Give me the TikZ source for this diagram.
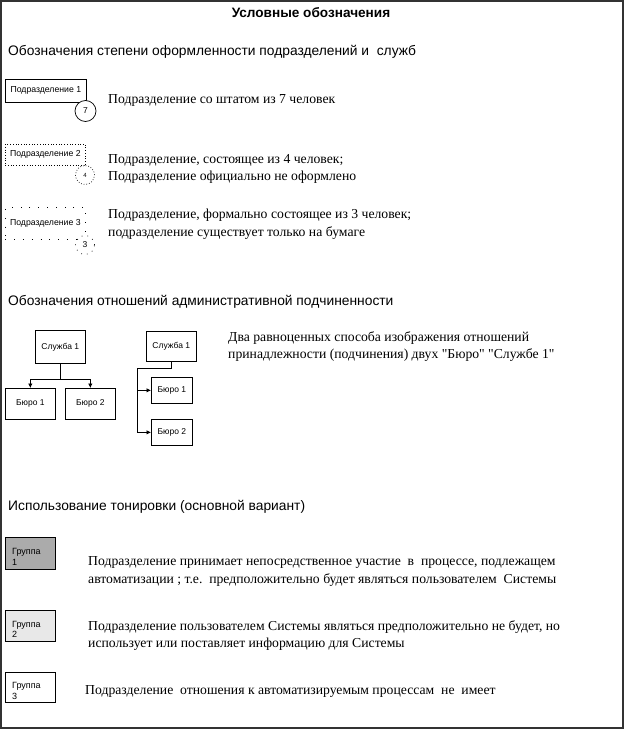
\documentclass[tikz,border=0pt]{standalone}
\usepackage{fontspec}
\setmainfont{Liberation Serif}[Ligatures=TeXOff]
\newfontfamily\arialf{Liberation Sans}
\usetikzlibrary{arrows.meta}
\begin{document}
\begin{tikzpicture}[x=1pt,y=-1pt,
  title/.style={font=\arialf\bfseries\fontsize{13.6}{15}\selectfont, inner sep=0pt},
  heading/.style={font=\arialf\fontsize{13.8}{15}\selectfont, anchor=west, inner sep=0pt},
  desc/.style={font=\fontsize{13.7}{17.5}\selectfont, anchor=west, align=left, inner sep=0pt},
  unit/.style={draw, line width=0.7pt, font=\arialf\fontsize{8.7}{9}\selectfont, inner sep=0pt},
  badge/.style={circle, draw, fill=white, line width=0.7pt, minimum size=21pt, inner sep=0pt, font=\arialf\fontsize{8.5}{9}\selectfont},
  orgbox/.style={draw, line width=0.7pt, font=\arialf\fontsize{8.5}{10}\selectfont, inner sep=0pt},
  grp/.style={draw, line width=0.8pt, minimum width=50pt, anchor=north west, inner sep=0pt},
  grplbl/.style={anchor=west, align=left, inner sep=0pt, xshift=7pt, yshift=-3.5pt, font=\arialf\fontsize{9}{10.5}\selectfont},
  conn/.style={line width=0.7pt},
  arr/.style={line width=0.7pt, -{Latex[length=4.5pt,width=4.5pt]}}
]
\useasboundingbox (0,0) rectangle (624,730);
\draw[line width=2pt, black!80] (1,1) rectangle (622.5,728);

% title and headings
\node[title] (t) at (311,13) {Условные обозначения};
\node[heading] (h1) at (8,51.5) {Обозначения степени оформленности подразделений и\ \ служб};
\node[heading] (h2) at (8,301.5) {Обозначения отношений административной подчиненности};
\node[heading] (h3) at (8,506.5) {Использование тонировки (основной вариант)};

% unit 1
\node[unit, minimum width=81pt, minimum height=23pt, anchor=north west] (u1) at (5,79) {Подразделение 1};
\node[badge] (c1) at (85.5,111) {7};
\node[desc] (d1) at (108,100.5) {Подразделение со штатом из 7 человек};

% unit 2
\node[unit, dotted, minimum width=80pt, minimum height=21pt, anchor=north west] (u2) at (5,144) {Подразделение 2};
\node[badge, dotted, minimum size=19pt, font=\arialf\fontsize{6}{7}\selectfont] (c2) at (85,175) {4};
\node[desc] (d2) at (108,169) {Подразделение, состоящее из 4 человек;\\Подразделение официально не оформлено};

% unit 3
\node[unit, dash pattern=on 0.8pt off 8pt, minimum width=80pt, minimum height=32pt, anchor=north west] (u3) at (5,207) {Подразделение 3};
\node[badge, dash pattern=on 0.8pt off 5pt, minimum size=19pt] (c3) at (85,245) {3};
\node[desc] (d3) at (108,224) {Подразделение, формально состоящее из 3 человек;\\подразделение существует только на бумаге};

% org chart 1
\node[orgbox, minimum width=50pt, minimum height=33pt, anchor=north west] (s1) at (35,330) {Служба 1};
\node[orgbox, minimum width=50pt, minimum height=31pt, anchor=north west] (b1) at (5,388) {Бюро 1};
\node[orgbox, minimum width=50pt, minimum height=31pt, anchor=north west] (b2) at (65,388) {Бюро 2};
\draw[conn] (s1.south) -- ++(0,16) coordinate (j);
\draw[arr] (j) -| (b1.north);
\draw[arr] (j) -| (b2.north);

% org chart 2
\node[orgbox, minimum width=50pt, minimum height=30pt, anchor=north west] (s2) at (146,331) {Служба 1};
\node[orgbox, minimum width=41pt, minimum height=26pt, anchor=north west] (e1) at (151,377) {Бюро 1};
\node[orgbox, minimum width=41pt, minimum height=26pt, anchor=north west] (e2) at (151,419) {Бюро 2};
\coordinate (k) at (137,368);
\draw[conn] (s2.south) |- (k) -- (k |- e2.west);
\draw[arr] (k |- e1.west) -- (e1.west);
\draw[arr] (k |- e2.west) -- (e2.west);
\node[desc] (d4) at (228,346.5) {Два равноценных способа изображения отношений\\принадлежности (подчинения) двух "Бюро" "Службе 1"};

% groups
\node[grp, fill=black!33, minimum height=32pt, label={[grplbl]west:Группа\\1}] (g1) at (5,537) {};
\node[grp, fill=black!9, minimum height=31pt, label={[grplbl]west:Группа\\2}] (g2) at (5,610) {};
\node[grp, fill=white, minimum height=30pt, label={[grplbl]west:Группа\\3}] (g3) at (5,672) {};
\node[desc] (d5) at (88,571.5) {Подразделение принимает непосредственное участие\ \ в\ \ процессе, подлежащем\\автоматизации ; т.е.\ \ предположительно будет являться пользователем\ \ Системы};
\node[desc] (d6) at (88,635.5) {Подразделение пользователем Системы являться предположительно не будет, но\\использует или поставляет информацию для Системы};
\node[desc] (d7) at (85,691.5) {Подразделение\ \ отношения к автоматизируемым процессам\ \ не\ \ имеет};
\end{tikzpicture}
\end{document}
